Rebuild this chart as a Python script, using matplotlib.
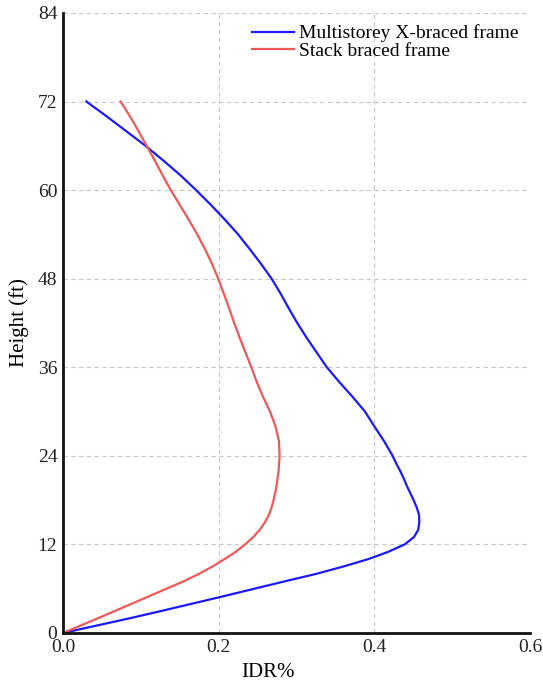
import matplotlib.pyplot as plt

plt.rcParams["font.family"] = ["Liberation Serif", "DejaVu Serif"]

# Multistorey X-braced frame: height (ft) vs inter-storey drift ratio (%)
h_xbraced = [0, 1, 2, 3, 4, 5, 6, 7, 8, 9, 10, 11, 12, 13, 14, 15, 16, 17, 18,
             19, 20, 21, 22, 23, 24, 26, 28, 30, 32, 34, 36, 38, 40, 42, 44,
             46, 48, 50, 52, 54, 56, 58, 60, 62, 64, 66, 68, 70, 72]
idr_xbraced = [0, 0.043, 0.086, 0.127, 0.167, 0.207, 0.246, 0.285, 0.325, 0.360,
               0.392, 0.418, 0.439, 0.451, 0.4565, 0.4578, 0.4575, 0.4545, 0.4505,
               0.446, 0.4415, 0.4375, 0.433, 0.428, 0.4235, 0.4125, 0.400, 0.388,
               0.372, 0.355, 0.339, 0.326, 0.313, 0.301, 0.290, 0.2795, 0.268,
               0.2545, 0.240, 0.225, 0.208, 0.190, 0.171, 0.151, 0.129, 0.106,
               0.081, 0.056, 0.030]

# Stack braced frame
h_stack = [0, 1, 2, 3, 4, 5, 6, 7, 8, 9, 10, 11, 12, 13, 14, 15, 16, 17, 18,
           19, 20, 22, 24, 26, 28, 30, 32, 34, 36, 38, 40, 42, 44, 46, 48, 50,
           52, 54, 56, 58, 60, 62, 64, 66, 68, 70, 72]
idr_stack = [0, 0.0225, 0.045, 0.067, 0.089, 0.111, 0.133, 0.155, 0.1745, 0.192,
             0.2075, 0.222, 0.234, 0.2445, 0.253, 0.2595, 0.2645, 0.268, 0.2705,
             0.2727, 0.2745, 0.277, 0.2783, 0.2775, 0.273, 0.266, 0.257, 0.249,
             0.242, 0.2345, 0.227, 0.220, 0.2135, 0.2065, 0.1995, 0.1915,
             0.1825, 0.1725, 0.1615, 0.150, 0.1385, 0.128, 0.118, 0.1075,
             0.097, 0.086, 0.074]

xticks = [0.0, 0.2, 0.4, 0.6]
yticks = [0, 12, 24, 36, 48, 60, 72, 84]

fig = plt.figure(figsize=(5.43, 6.81), dpi=100)
ax = fig.add_axes([0.116, 0.0705, 0.86, 0.9105])

ax.plot(idr_xbraced, h_xbraced, color="#1a1aff", lw=1.6,
        solid_joinstyle="round", label="Multistorey X-braced frame")
ax.plot(idr_stack, h_stack, color="#f05858", lw=1.6,
        solid_joinstyle="round", label="Stack braced frame")

ax.set_xlim(0, 0.6)
ax.set_ylim(0, 84)
ax.set_xticks(xticks)
ax.set_xticklabels([f"{v:.1f}" for v in xticks])
ax.set_yticks(yticks)

ax.grid(True, color="#c8c8c8", ls=(0, (4, 3)), lw=0.8)
ax.set_axisbelow(True)
for s in ["top", "right"]:
    ax.spines[s].set_visible(False)
for s in ["left", "bottom"]:
    ax.spines[s].set_linewidth(2)
    ax.spines[s].set_color("#111111")
ax.tick_params(length=0, labelsize=14, pad=4, colors="#222222")

ax.set_xlabel("IDR%", fontsize=15, labelpad=3)
ax.xaxis.set_label_coords(0.44, -0.048)
ax.set_ylabel("Height (ft)", fontsize=15, labelpad=6)

ax.legend(loc="upper right", frameon=False, fontsize=14, handlelength=2.15,
          handletextpad=0.25, labelspacing=0.0, borderaxespad=0.2,
          bbox_to_anchor=(1.0, 1.0))

fig.savefig("out.png", dpi=100)
